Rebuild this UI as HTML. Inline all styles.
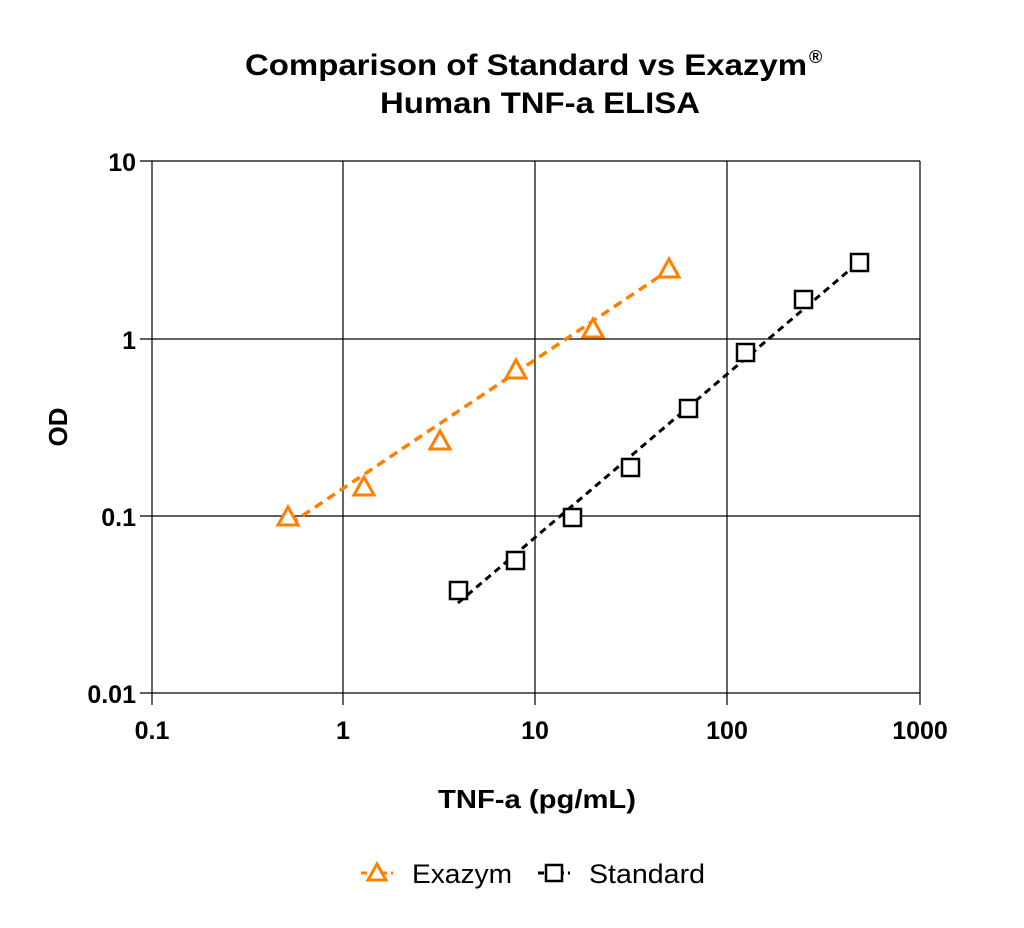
<!DOCTYPE html>
<html><head><meta charset="utf-8"><style>
html,body{margin:0;padding:0;background:#fff;}
svg{display:block;font-family:"Liberation Sans",Arial,sans-serif;}
</style></head><body>
<svg width="1024" height="928" viewBox="0 0 1024 928" xmlns="http://www.w3.org/2000/svg">
<rect width="1024" height="928" fill="#fff"/>
<text x="245" y="75" font-size="30" font-weight="bold" textLength="562" lengthAdjust="spacingAndGlyphs">Comparison of Standard vs Exazym</text>
<text x="809" y="63" font-size="18" font-weight="bold">®</text>
<text x="380" y="113" font-size="30" font-weight="bold" textLength="320" lengthAdjust="spacingAndGlyphs">Human TNF-a ELISA</text>
<g stroke="#000" stroke-width="1.2" fill="none">
<line x1="152" y1="161" x2="152" y2="693"/>
<line x1="343" y1="161" x2="343" y2="693"/>
<line x1="535" y1="161" x2="535" y2="693"/>
<line x1="727" y1="161" x2="727" y2="693"/>
<line x1="920" y1="161" x2="920" y2="693"/>
<line x1="140" y1="161" x2="920" y2="161"/>
<line x1="140" y1="339" x2="920" y2="339"/>
<line x1="140" y1="516" x2="920" y2="516"/>
<line x1="140" y1="693" x2="920" y2="693"/>
<line x1="152" y1="693" x2="152" y2="705"/>
<line x1="343" y1="693" x2="343" y2="705"/>
<line x1="535" y1="693" x2="535" y2="705"/>
<line x1="727" y1="693" x2="727" y2="705"/>
<line x1="920" y1="693" x2="920" y2="705"/>
</g>
<g font-size="25" font-weight="bold" text-anchor="end">
<text x="136" y="171">10</text>
<text x="136" y="349">1</text>
<text x="136" y="526">0.1</text>
<text x="136" y="703">0.01</text>
</g>
<g font-size="25" font-weight="bold" text-anchor="middle">
<text x="152" y="739">0.1</text>
<text x="343" y="739">1</text>
<text x="535" y="739">10</text>
<text x="727" y="739">100</text>
<text x="920" y="739">1000</text>
</g>
<text x="438" y="808" font-size="26" font-weight="bold" textLength="198" lengthAdjust="spacingAndGlyphs">TNF-a (pg/mL)</text>
<text transform="translate(67,427) rotate(-90)" text-anchor="middle" font-size="26" font-weight="bold">OD</text>
<line x1="290" y1="524" x2="669" y2="270" stroke="#ff8000" stroke-width="3.5" stroke-dasharray="9,6"/>
<line x1="458" y1="603" x2="859" y2="262" stroke="#000" stroke-width="3" stroke-dasharray="7,5"/>
<g fill="#fff" stroke="#ff8000" stroke-width="3" stroke-linejoin="miter">
<polygon points="288,507 278,525 298,525"/>
<polygon points="364,477 354,495 374,495"/>
<polygon points="440,431 430,449 450,449"/>
<polygon points="516,360 506,378 526,378"/>
<polygon points="593,319 583,337 603,337"/>
<polygon points="669,259 659,277 679,277"/>
</g>
<g fill="#fff" stroke="#000" stroke-width="2.5">
<rect x="450" y="582" width="17" height="17"/>
<rect x="507" y="552" width="17" height="17"/>
<rect x="564" y="509" width="17" height="17"/>
<rect x="622" y="459" width="17" height="17"/>
<rect x="680" y="400" width="17" height="17"/>
<rect x="737" y="344" width="17" height="17"/>
<rect x="795" y="291" width="17" height="17"/>
<rect x="851" y="254" width="17" height="17"/>
</g>
<line x1="361" y1="873" x2="393" y2="873" stroke="#ff8000" stroke-width="3" stroke-dasharray="6,4"/>
<polygon points="377,864 368,880 386,880" fill="#fff" stroke="#ff8000" stroke-width="3"/>
<text x="412" y="883" font-size="27" textLength="100" lengthAdjust="spacingAndGlyphs">Exazym</text>
<line x1="538" y1="873" x2="570" y2="873" stroke="#000" stroke-width="3" stroke-dasharray="6,4"/>
<rect x="546" y="865" width="16" height="16" fill="#fff" stroke="#000" stroke-width="2.5"/>
<text x="589" y="883" font-size="27" textLength="116" lengthAdjust="spacingAndGlyphs">Standard</text>
</svg>
</body></html>
